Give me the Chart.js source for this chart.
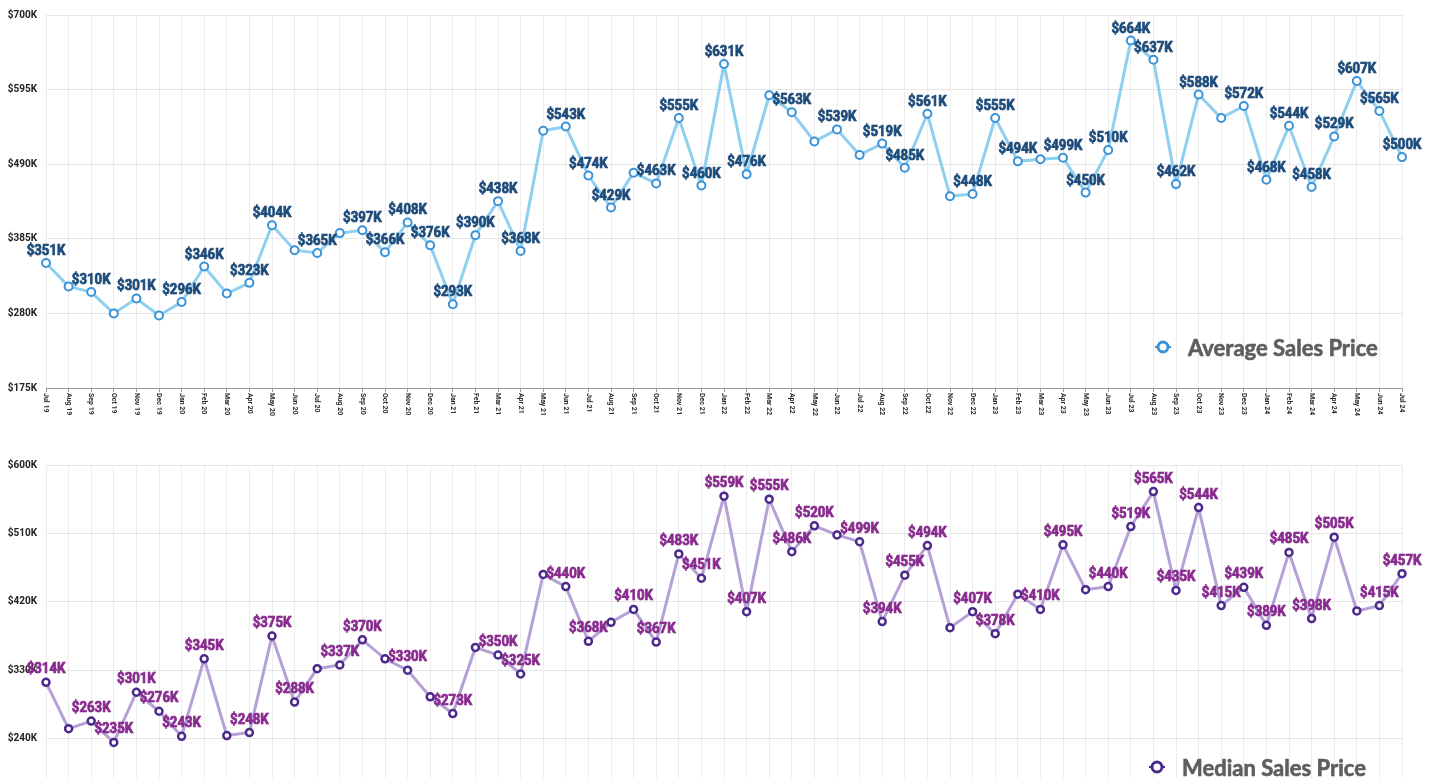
<!DOCTYPE html>
<html>
<head>
<meta charset="utf-8">
<script src="https://cdn.jsdelivr.net/npm/chart.js@4.4.1/dist/chart.umd.min.js"></script>
<style>
  html, body { margin: 0; padding: 0; background: #fff; overflow: hidden; }
  .wrap { position: absolute; left: 0; width: 1435px; }
  #topWrap { top: 0; height: 430px; }
  #botWrap { top: 450px; height: 400px; }
</style>
</head>
<body>
<div class="wrap" id="topWrap"><canvas id="avgChart"></canvas></div>
<div class="wrap" id="botWrap"><canvas id="medChart"></canvas></div>
<script>
const months = [
  'Jul 19', 'Aug 19', 'Sep 19', 'Oct 19', 'Nov 19', 'Dec 19', 'Jan 20', 'Feb 20', 'Mar 20', 'Apr 20', 'May 20', 'Jun 20',
  'Jul 20', 'Aug 20', 'Sep 20', 'Oct 20', 'Nov 20', 'Dec 20', 'Jan 21', 'Feb 21', 'Mar 21', 'Apr 21', 'May 21', 'Jun 21',
  'Jul 21', 'Aug 21', 'Sep 21', 'Oct 21', 'Nov 21', 'Dec 21', 'Jan 22', 'Feb 22', 'Mar 22', 'Apr 22', 'May 22', 'Jun 22',
  'Jul 22', 'Aug 22', 'Sep 22', 'Oct 22', 'Nov 22', 'Dec 22', 'Jan 23', 'Feb 23', 'Mar 23', 'Apr 23', 'May 23', 'Jun 23',
  'Jul 23', 'Aug 23', 'Sep 23', 'Oct 23', 'Nov 23', 'Dec 23', 'Jan 24', 'Feb 24', 'Mar 24', 'Apr 24', 'May 24', 'Jun 24',
  'Jul 24'
];

// prices in $K
const avgPrice = [
  351, 318, 310, 280, 301, 277, 296, 346, 308, 323, 404, 369,
  365, 393, 397, 366, 408, 376, 293, 390, 438, 368, 537, 543,
  474, 429, 478, 463, 555, 460, 631, 476, 587, 563, 522, 539,
  503, 519, 485, 561, 445, 448, 555, 494, 497, 499, 450, 510,
  664, 637, 462, 588, 555, 572, 468, 544, 458, 529, 607, 565,
  500
];

const medianPrice = [
  314, 253, 263, 235, 301, 276, 243, 345, 244, 248, 375, 288,
  332, 337, 370, 345, 330, 295, 273, 360, 350, 325, 456, 440,
  368, 393, 410, 367, 483, 451, 559, 407, 555, 486, 520, 508,
  499, 394, 455, 494, 386, 407, 378, 430, 410, 495, 436, 440,
  519, 565, 435, 544, 415, 439, 389, 485, 398, 505, 408, 415,
  457
];

const avgTicks = { min: 175, max: 700, step: 105 };
const medTicks = { min: 150, max: 600, step: 90 };

const fmtK = v => '$' + v + 'K';

// value labels above points, later points win when two labels collide
const pointLabels = {
  id: 'pointLabels',
  afterDatasetsDraw(chart, args, opts) {
    const ctx = chart.ctx;
    const meta = chart.getDatasetMeta(0);
    const data = chart.data.datasets[0].data;
    const sx = 0.88, boxH = 17.8;
    ctx.save();
    ctx.font = 'bold 15px Roboto';
    const placed = [];
    for (let i = data.length - 1; i >= 0; i--) {
      const pt = meta.data[i];
      const text = fmtK(data[i]);
      const w = ctx.measureText(text).width * sx;
      const base = pt.y - opts.offset;
      const box = { l: pt.x - w / 2, r: pt.x + w / 2, t: base - 5 - boxH / 2, b: base - 5 + boxH / 2 };
      const hit = placed.some(p => box.l < p.r && box.r > p.l && box.t < p.b && box.b > p.t);
      if (hit) continue;
      placed.push(box);
      ctx.save();
      ctx.translate(pt.x, base);
      ctx.scale(sx, 1);
      ctx.shadowColor = 'rgba(0,0,0,0.18)';
      ctx.shadowBlur = 2;
      ctx.fillStyle = opts.color;
      ctx.strokeStyle = opts.color;
      ctx.lineWidth = 0.7;
      ctx.textAlign = 'center';
      ctx.textBaseline = 'alphabetic';
      ctx.fillText(text, 0, 0);
      ctx.shadowColor = 'transparent';
      ctx.strokeText(text, 0, 0);
      ctx.restore();
    }
    ctx.restore();
  }
};

// month labels turned clockwise, plus the legend in the corner
const extras = {
  id: 'extras',
  afterDraw(chart, args, opts) {
    const ctx = chart.ctx;
    const xs = chart.scales.x;
    const area = chart.chartArea;
    ctx.save();
    ctx.font = 'bold 7px Roboto';
    ctx.fillStyle = '#2b2b2b';
    ctx.textAlign = 'left';
    ctx.textBaseline = 'middle';
    chart.data.labels.forEach((lab, i) => {
      const x = xs.getPixelForTick(i);
      ctx.save();
      ctx.translate(x, area.bottom + 5);
      ctx.rotate(Math.PI / 2);
      ctx.fillText(lab, 0, 0);
      ctx.restore();
    });

    const ds = chart.data.datasets[0];
    const mx = opts.x, my = area.bottom - opts.dy;
    ctx.strokeStyle = ds.pointBorderColor;
    ctx.lineWidth = 2;
    ctx.beginPath();
    ctx.moveTo(mx - 8, my);
    ctx.lineTo(mx + 8, my);
    ctx.stroke();
    ctx.beginPath();
    ctx.arc(mx, my, 5, 0, Math.PI * 2);
    ctx.fillStyle = '#fff';
    ctx.fill();
    ctx.lineWidth = 3;
    ctx.stroke();
    ctx.font = 'bold 22px Lato';
    ctx.fillStyle = '#5e5e5e';
    ctx.strokeStyle = '#5e5e5e';
    ctx.lineWidth = 0.6;
    ctx.textBaseline = 'alphabetic';
    ctx.fillText(ds.label, mx + 25, my + 9);
    ctx.strokeText(ds.label, mx + 25, my + 9);
    ctx.restore();
  }
};

function makeChart(canvasId, cfg) {
  return new Chart(document.getElementById(canvasId), {
    type: 'line',
    data: {
      labels: months,
      datasets: [{
        label: cfg.label,
        data: cfg.data,
        borderColor: cfg.lineColor,
        borderWidth: 3,
        pointBorderColor: cfg.pointColor,
        pointBackgroundColor: '#fff',
        pointRadius: cfg.radius,
        pointBorderWidth: cfg.pointBorder,
        tension: 0
      }]
    },
    options: {
      responsive: true,
      maintainAspectRatio: false,
      animation: false,
      events: [],
      layout: { padding: { top: 11, right: 33, left: 0, bottom: 0 } },
      scales: {
        x: {
          offset: false,
          grid: { color: '#ececec', drawTicks: true, tickLength: 4, tickColor: '#999' },
          border: { color: '#999', width: 1 },
          ticks: { display: false },
          afterFit: s => { s.height = cfg.xHeight; }
        },
        y: {
          min: cfg.ticks.min,
          max: cfg.ticks.max,
          grid: { color: '#e6e6e6', drawTicks: false },
          border: { display: false },
          ticks: {
            stepSize: cfg.ticks.step,
            padding: 9,
            color: '#222',
            font: { family: 'Roboto', weight: 'bold', size: 10 },
            callback: v => fmtK(v)
          },
          afterFit: s => { s.width = 46; }
        }
      },
      plugins: {
        legend: { display: false },
        tooltip: { enabled: false },
        pointLabels: { color: cfg.labelColor, offset: cfg.labelOffset },
        extras: { x: cfg.legendX, dy: cfg.legendDy }
      }
    },
    plugins: [pointLabels, extras]
  });
}

makeChart('avgChart', {
  label: 'Average Sales Price',
  data: avgPrice,
  ticks: avgTicks,
  lineColor: '#8fcff0',
  pointColor: '#3a92d8',
  labelColor: '#1d4c7c',
  radius: 4,
  pointBorder: 2,
  labelOffset: 8,
  xHeight: 42,
  legendX: 1163,
  legendDy: 41
});

makeChart('medChart', {
  label: 'Median Sales Price',
  data: medianPrice,
  ticks: medTicks,
  lineColor: '#b6a0d8',
  pointColor: '#4b2a8c',
  labelColor: '#8a2a90',
  radius: 3.5,
  pointBorder: 2.5,
  labelOffset: 9,
  xHeight: 43,
  legendX: 1157,
  legendDy: 40
});
</script>
</body>
</html>
